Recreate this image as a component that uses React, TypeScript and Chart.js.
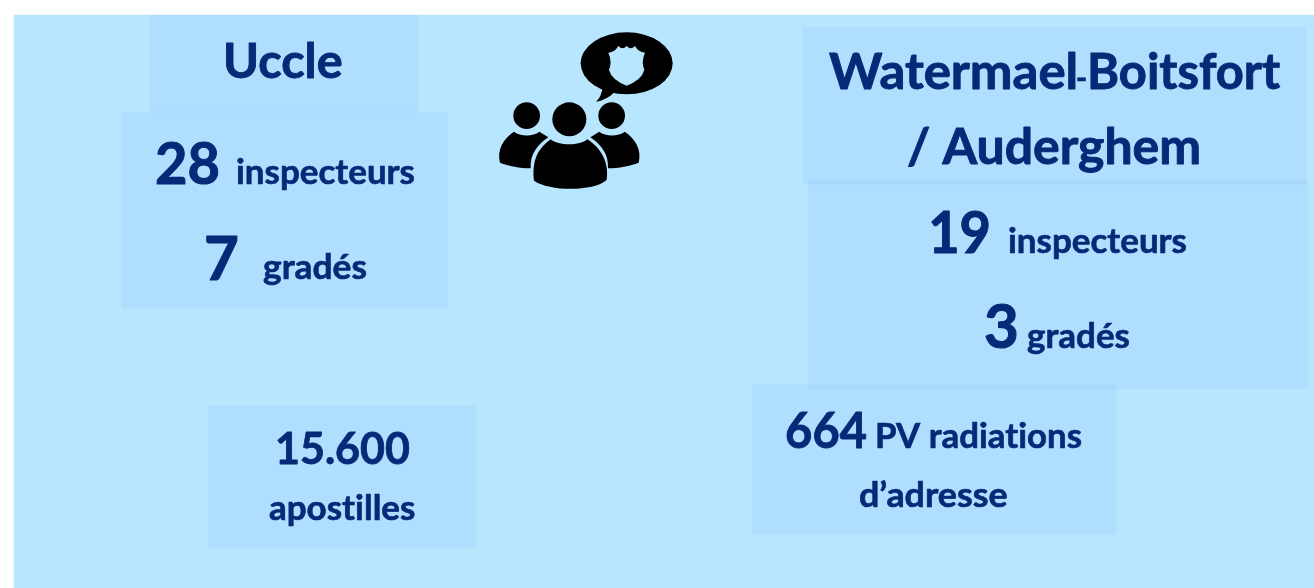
import React, { useEffect, useRef } from "react";
import { Chart, registerables } from "chart.js";

Chart.register(...registerables);

// ---- data ----
const siteUccle = "Uccle";
const siteWatermael = ["Watermael", "-", "Boitsfort"];
const siteAuderghem = "/ Auderghem";
const inspectorCounts = [28, 19];
const gradedCounts = [7, 3];
const inspectorLabel = "inspecteurs";
const gradedLabel = "grad\u00e9s";
const apostilleCount = "15.600";
const apostilleLabel = "apostilles";
const radiationCount = [664];
const radiationLabel = "PV radiations";
const radiationLabel2 = "d\u2019adresse";

// ---- layout ----
const W = 1314;
const H = 588;
const TEXT = "rgb(6,42,120)";
const BACK = "rgb(184,230,255)";
const PANEL = "rgba(150,200,250,0.25)";
const FONT = "Lato";

type Box = [number, number, number, number];
const panels: Box[] = [
  [150, 418, 15, 112],
  [122, 448, 112, 308],
  [208, 476, 406, 547],
  [752, 1116, 385, 534],
  [808, 1308, 180, 389],
  [803, 1306, 27, 184],
];
const pageBox: Box = [14, 1314, 15, 588];

const makeBar = ([l, r, t, b]: Box, color: string) => ({
  data: [{ x: (l + r) / 2, y: [t, b] }],
  barThickness: r - l,
  backgroundColor: color,
  borderWidth: 0,
  grouped: false,
});

// text, ink-left, ink-right, baseline, font size
type Run = [string, number, number, number, number];
const runs: Run[] = [
  [siteUccle, 226, 342, 78, 48],
  [String(inspectorCounts[0]), 157, 218, 184, 57],
  [inspectorLabel, 237, 414, 184, 34],
  [String(gradedCounts[0]), 206, 237, 280, 62],
  [gradedLabel, 263, 366, 279, 34],
  [siteWatermael[0], 829, 1076, 89, 49],
  [siteWatermael[1], 1077, 1086, 89, 30],
  [siteWatermael[2], 1090, 1280, 89, 49],
  [siteAuderghem, 908, 1199, 164, 49],
  [String(inspectorCounts[1]), 931, 989, 253, 57],
  [inspectorLabel, 1009, 1186, 253, 34],
  [String(gradedCounts[1]), 986, 1017, 348, 62],
  [gradedLabel, 1027, 1129, 348, 34],
  [apostilleCount, 277, 409, 464, 43],
  [apostilleLabel, 269, 415, 520, 35],
  [String(radiationCount[0]), 787, 866, 448, 50],
  [radiationLabel, 877, 1081, 448, 34],
  [radiationLabel2, 860, 1007, 507, 35],
];

const drawIcon = (ctx: CanvasRenderingContext2D, x0: number, y0: number) => {
  ctx.save();
  ctx.translate(x0, y0);
  ctx.scale(1 / 3, 1 / 3);
  ctx.fillStyle = "#000";
  // speech bubble
  ctx.beginPath();
  ctx.ellipse(440, 130, 138, 93, 0, 0, Math.PI * 2);
  ctx.fill();
  ctx.beginPath();
  ctx.moveTo(368, 200);
  ctx.quadraticCurveTo(365, 230, 348, 245);
  ctx.quadraticCurveTo(380, 240, 405, 215);
  ctx.closePath();
  ctx.fill();
  // shield
  ctx.fillStyle = BACK;
  ctx.beginPath();
  ctx.moveTo(385, 98);
  ctx.quadraticCurveTo(405, 96, 415, 78);
  ctx.quadraticCurveTo(428, 92, 440, 78);
  ctx.quadraticCurveTo(452, 92, 465, 78);
  ctx.quadraticCurveTo(475, 96, 495, 98);
  ctx.quadraticCurveTo(483, 125, 493, 150);
  ctx.quadraticCurveTo(485, 180, 440, 197);
  ctx.quadraticCurveTo(395, 180, 387, 150);
  ctx.quadraticCurveTo(397, 125, 385, 98);
  ctx.closePath();
  ctx.fill();
  // heads
  ctx.fillStyle = "#000";
  for (const [cx, cy, r] of [
    [140, 287, 40],
    [268, 298, 51],
    [395, 287, 40],
  ]) {
    ctx.beginPath();
    ctx.arc(cx, cy, r, 0, Math.PI * 2);
    ctx.fill();
  }
  // centre body
  ctx.beginPath();
  ctx.moveTo(162, 482);
  ctx.bezierCurveTo(155, 420, 175, 385, 212, 358);
  ctx.bezierCurveTo(235, 378, 300, 378, 322, 358);
  ctx.bezierCurveTo(365, 385, 388, 430, 380, 480);
  ctx.bezierCurveTo(340, 515, 210, 515, 162, 482);
  ctx.closePath();
  ctx.fill();
  // side bodies
  for (const m of [0, 1]) {
    const X = (v: number) => (m ? 536 - v : v);
    ctx.beginPath();
    ctx.moveTo(X(60), 428);
    ctx.bezierCurveTo(X(50), 390, X(70), 355, X(102), 335);
    ctx.bezierCurveTo(X(120), 350, X(160), 350, X(178), 335);
    ctx.lineTo(X(205), 352);
    ctx.bezierCurveTo(X(170), 375, X(150), 405, X(152), 445);
    ctx.bezierCurveTo(X(120), 445, X(85), 438, X(60), 428);
    ctx.closePath();
    ctx.fill();
  }
  ctx.restore();
};

const overlay = {
  id: "overlay",
  afterDatasetsDraw(chart: any) {
    const { ctx, scales } = chart;
    const px = (v: number) => scales.x.getPixelForValue(v);
    const py = (v: number) => scales.y.getPixelForValue(v);
    drawIcon(ctx, px(480), py(20));
    ctx.fillStyle = TEXT;
    ctx.strokeStyle = TEXT;
    ctx.lineJoin = "round";
    ctx.textBaseline = "alphabetic";
    ctx.textAlign = "left";
    (ctx as any).textRendering = "optimizeSpeed"; // no "ti" ligature
    for (const [text, left, right, base, size] of runs) {
      ctx.font = `bold ${size}px ${FONT}`;
      const m = ctx.measureText(text);
      const ink = m.actualBoundingBoxRight + m.actualBoundingBoxLeft;
      const sx = (px(right) - px(left)) / ink;
      ctx.save();
      ctx.translate(px(left), py(base));
      ctx.scale(sx, 1);
      ctx.lineWidth = Math.max(0.6, size * 0.018);
      ctx.fillText(text, m.actualBoundingBoxLeft, 0);
      ctx.strokeText(text, m.actualBoundingBoxLeft, 0);
      ctx.restore();
    }
  },
};

export default function App() {
  const ref = useRef<HTMLCanvasElement>(null);
  useEffect(() => {
    document.body.style.margin = "0";
    document.body.style.background = "#fff";
    const chart = new Chart(ref.current!, {
      type: "bar",
      data: {
        datasets: [...panels.map((p) => makeBar(p, PANEL)), makeBar(pageBox, BACK)] as any,
      },
      options: {
        responsive: false,
        animation: false,
        events: [],
        layout: { padding: 0 },
        plugins: { legend: { display: false }, tooltip: { enabled: false }, title: { display: false } },
        scales: {
          x: { type: "linear", min: 0, max: W, offset: false, display: false },
          y: { type: "linear", min: 0, max: H, reverse: true, display: false },
        },
      },
      plugins: [overlay],
    });
    return () => chart.destroy();
  }, []);
  return <canvas ref={ref} width={W} height={H} style={{ display: "block" }} />;
}
